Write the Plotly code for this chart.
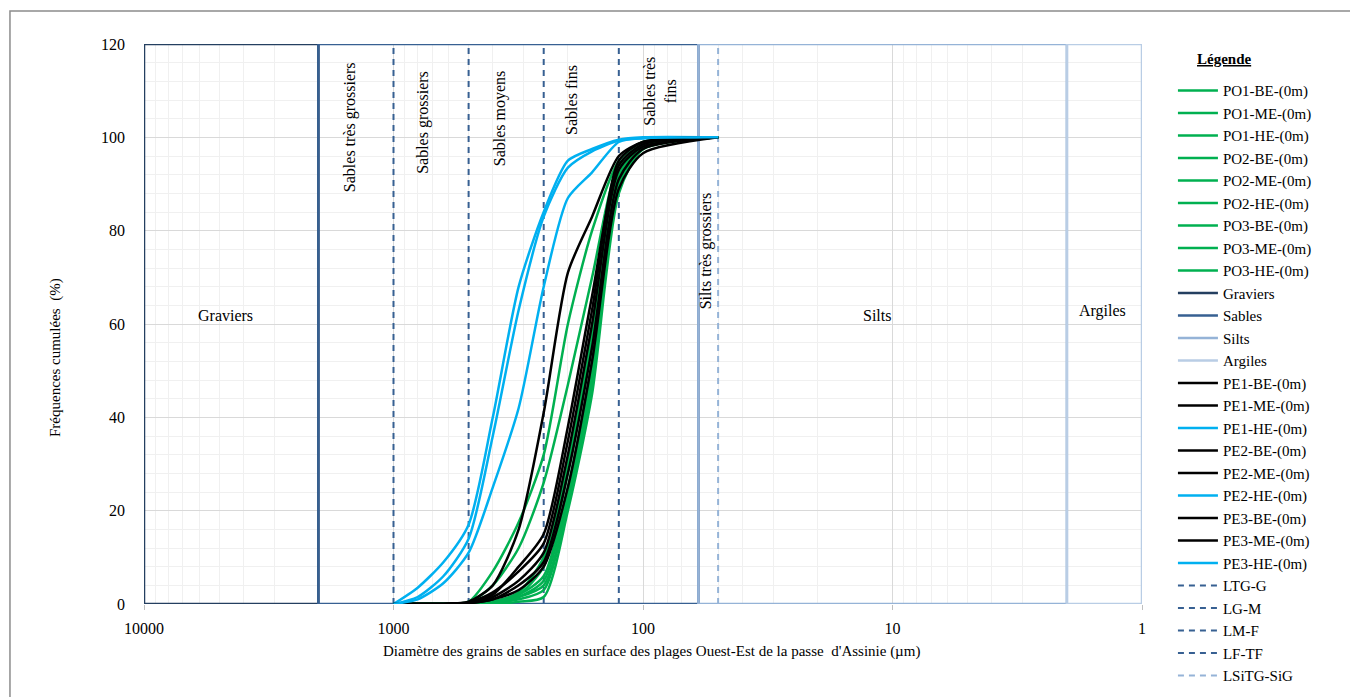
import plotly.graph_objects as go
import math

# ---------------- data ----------------
sizes = [1000, 800, 630, 500, 400, 315, 250, 200, 160, 125, 100, 50]

po_names = ["PO1-BE-(0m)", "PO1-ME-(0m)", "PO1-HE-(0m)", "PO2-BE-(0m)", "PO2-ME-(0m)",
            "PO2-HE-(0m)", "PO3-BE-(0m)", "PO3-ME-(0m)", "PO3-HE-(0m)"]
po_values = [
    [0, 0, 0, 0.5, 7, 17.5, 32, 60, 80, 95, 99, 100],
    [0, 0, 0, 0.3, 4, 12, 26, 47, 70, 94, 98, 100],
    [0, 0, 0, 0, 0.5, 2, 8, 28, 56, 92, 98, 100],
    [0, 0, 0, 0, 0.5, 2, 6, 25, 52, 90, 97.5, 100],
    [0, 0, 0, 0, 0.3, 1.5, 5, 23, 50, 91, 98, 100],
    [0, 0, 0, 0, 0.2, 1, 3, 22, 48, 89, 97.5, 100],
    [0, 0, 0, 0, 0, 0.5, 1.5, 20, 45, 88, 97.5, 100],
    [0, 0, 0, 0, 0.5, 2.5, 10, 30, 58, 93, 98.5, 100],
    [0, 0, 0, 0, 0.3, 1.5, 4, 21, 47, 90, 98, 100],
]

pe_names = ["PE1-BE-(0m)", "PE1-ME-(0m)", "PE1-HE-(0m)", "PE2-BE-(0m)", "PE2-ME-(0m)",
            "PE2-HE-(0m)", "PE3-BE-(0m)", "PE3-ME-(0m)", "PE3-HE-(0m)"]
pe_values = [
    [0, 0, 0, 0.5, 4, 16, 41, 71, 83, 96, 99, 100],
    [0, 0, 0, 0.3, 2, 8, 15, 38, 66, 94, 98.5, 100],
    [0, 3.5, 9, 17, 40, 68, 84, 95, 97.5, 99.5, 100, 100],
    [0, 0, 0, 0.2, 1.5, 5, 11, 32, 60, 93, 98, 100],
    [0, 0, 0, 0.2, 1, 4, 9, 28, 55, 91, 97.5, 100],
    [0, 1.5, 6, 14, 36, 63, 83, 93.5, 97, 99.3, 99.8, 100],
    [0, 0, 0, 0.3, 2.5, 7, 13, 35, 63, 95, 99, 100],
    [0, 0, 0, 0.2, 1, 3, 8, 25, 52, 89, 96.6, 100],
    [0, 1, 4.5, 11, 25, 42, 68, 87, 92.5, 99, 99.8, 100],
]
pe_colors = ["#000000", "#000000", "#00B0F0", "#000000", "#000000", "#00B0F0",
             "#000000", "#000000", "#00B0F0"]

# class boxes (µm limits)
box_names = ["Graviers", "Sables", "Silts", "Argiles"]
box_limits = [(10000, 2000), (2000, 60), (60, 2), (2, 1)]
box_colors = ["#243F60", "#376092", "#95B3D7", "#B9CDE5"]

# boundary lines (µm)
line_names = ["LTG-G", "LG-M", "LM-F", "LF-TF", "LSiTG-SiG"]
line_pos = [1000, 500, 250, 125, 50]
line_colors = ["#376092", "#376092", "#376092", "#376092", "#95B3D7"]

y_max = 120
x_ticks = [10000, 1000, 100, 10, 1]

FONT = "Liberation Serif"

fig = go.Figure()

# boxes (drawn first)
for i, (nm, (a, b), c) in enumerate(zip(box_names, box_limits, box_colors)):
    fig.add_trace(go.Scatter(
        x=[a, b, b, a, a], y=[0, 0, y_max, y_max, 0], mode="lines", name=nm,
        line=dict(color=c, width=2.5), legendrank=100 + i, hoverinfo="skip"))

# dashed boundaries
for i, (nm, p, c) in enumerate(zip(line_names, line_pos, line_colors)):
    fig.add_trace(go.Scatter(
        x=[p, p], y=[0, y_max], mode="lines", name=nm,
        line=dict(color=c, width=2, dash="6px,5px"), legendrank=300 + i))

# PO curves
for i, (nm, v) in enumerate(zip(po_names, po_values)):
    fig.add_trace(go.Scatter(
        x=sizes, y=v, mode="lines", name=nm,
        line=dict(color="#00B050", width=2.5, shape="spline", smoothing=0.7),
        legendrank=i))

# PE curves
for i, (nm, v, c) in enumerate(zip(pe_names, pe_values, pe_colors)):
    fig.add_trace(go.Scatter(
        x=sizes, y=v, mode="lines", name=nm,
        line=dict(color=c, width=2.5, shape="spline", smoothing=0.7),
        legendrank=200 + i))

# ---------------- annotations ----------------
ann = []
def lab(text, x_um, y, angle=0, size=16):
    ann.append(dict(text=text, x=math.log10(x_um), y=y, xref="x", yref="y",
                    showarrow=False, textangle=angle, xanchor="center", yanchor="middle",
                    font=dict(family=FONT, size=size, color="black")))

lab("Graviers", 10 ** 3.675, 61.9)
lab("Silts", 10 ** 1.062, 61.9)
lab("Argiles", 10 ** 0.160, 62.8)
lab("Sables très grossiers", 10 ** 3.174, 102.2, -90)
lab("Sables grossiers", 10 ** 2.882, 103.3, -90)
lab("Sables moyens", 10 ** 2.573, 104.1, -90)
lab("Sables fins", 10 ** 2.289, 108.0, -90)
lab("Sables très<br>fins", 10 ** 1.932, 110.0, -90)
lab("Silts très grossiers", 10 ** 1.747, 75.6, -90)

ann.append(dict(text="Fréquences cumulées  (%)", x=-0.0892, y=0.441, xref="paper",
                yref="paper", showarrow=False, textangle=-90,
                xanchor="center", yanchor="middle",
                font=dict(family=FONT, size=15, color="black")))
ann.append(dict(text="Diamètre des grains de sables en surface des plages Ouest-Est de la passe  d'Assinie (µm)",
                x=0.509, y=-0.084, xref="paper", yref="paper", showarrow=False,
                xanchor="center", yanchor="middle",
                font=dict(family=FONT, size=15, color="black")))
ann.append(dict(text="<b><span style='text-decoration:underline'>Légende</span></b>",
                x=1.0822, y=0.973, xref="paper", yref="paper", showarrow=False,
                xanchor="center", yanchor="middle",
                font=dict(family=FONT, size=15, color="black")))

minor_vals = [m * 10 ** e for e in range(0, 4) for m in range(2, 10)]

fig.update_layout(
    width=1350, height=697, autosize=False,
    margin=dict(l=136, r=216, t=36, b=101, autoexpand=False),
    paper_bgcolor="white", plot_bgcolor="white",
    font=dict(family=FONT, size=16, color="black"),
    showlegend=True,
    legend=dict(
        x=1.031, xanchor="left", y=0.946, yanchor="top", maxheight=700,
        font=dict(family=FONT, size=15, color="black"),
        itemwidth=40, tracegroupgap=0, bgcolor="rgba(0,0,0,0)"),
    xaxis=dict(
        type="log", range=[4, 0], tickmode="array", tickvals=x_ticks,
        ticktext=[str(t) for t in x_ticks], ticks="outside", ticklen=5,
        tickcolor="#BFBFBF", showgrid=True, gridcolor="#D9D9D9", gridwidth=1,
        ticklabelstandoff=5,
        minor=dict(tickmode="array", tickvals=minor_vals, showgrid=True,
                   gridcolor="#F0F0F0", ticks=""),
        zeroline=False, showline=False,
        tickfont=dict(family=FONT, size=16, color="black")),
    yaxis=dict(
        range=[0, y_max], dtick=20, tick0=0, showgrid=True, gridcolor="#D9D9D9",
        minor=dict(dtick=4, showgrid=True, gridcolor="#F0F0F0"),
        zeroline=False, showline=False, ticks="", ticklabelstandoff=18,
        tickfont=dict(family=FONT, size=16, color="black")),
    annotations=ann,
    shapes=[dict(type="rect", xref="paper", yref="paper", x0=-0.1343, x1=1.3,
                 y0=-0.3, y1=1.0589, line=dict(color="#8C8C8C", width=1.5),
                 fillcolor="rgba(0,0,0,0)", layer="below")],
)

fig.write_html("out.html")
